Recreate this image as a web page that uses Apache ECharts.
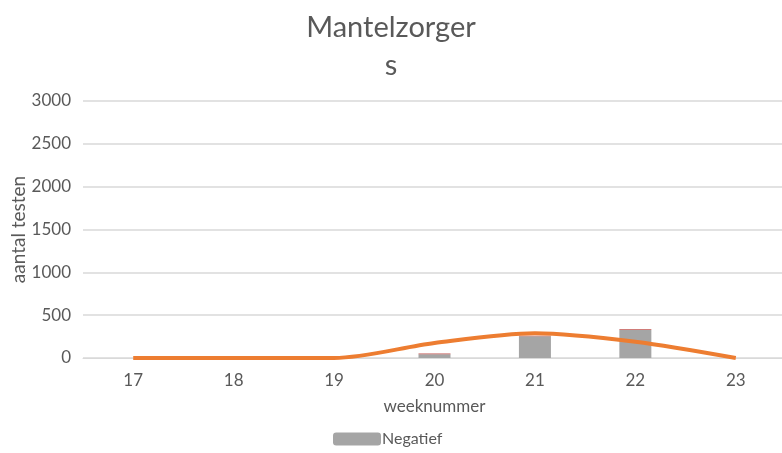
<!DOCTYPE html>
<html>
<head>
<meta charset="utf-8">
<script src="https://cdn.jsdelivr.net/npm/echarts@6/dist/echarts.min.js"></script>
<style>
  html, body { margin: 0; padding: 0; background: #fff; }
  #chart { width: 782px; height: 453px; }
</style>
</head>
<body>
<div id="chart"></div>
<script>
// ====== 数据 ======
const weeks = ["17", "18", "19", "20", "21", "22", "23"];
const negatief = [0, 0, 0, 45, 255, 327, 0];
const positief = [0, 0, 0, 8, 5, 10, 0];
const trend = [0, 0, 0, 175, 290, 190, 0];
const yTicks = [0, 500, 1000, 1500, 2000, 2500, 3000];

const textColor = "#595959";
const font = "Lato";

const chart = echarts.init(document.getElementById("chart"));

chart.setOption({
  backgroundColor: "#fff",
  animation: false,
  textStyle: { fontFamily: font },
  title: {
    text: "Mantelzorger\ns",
    left: "center",
    top: 4,
    textStyle: { fontSize: 29, fontWeight: "normal", color: textColor, lineHeight: 38, fontFamily: font }
  },
  legend: {
    bottom: 1,
    left: 328,
    itemWidth: 48,
    itemHeight: 13,
    itemGap: 4,
    data: ["Negatief"],
    textStyle: { fontSize: 16, color: textColor, padding: [0, 0, 0, -4] }
  },
  grid: { left: 83, right: -4, top: 101, bottom: 95, outerBoundsMode: "none", containLabel: false },
  xAxis: {
    type: "category",
    data: weeks,
    boundaryGap: true,
    name: "weeknummer",
    nameLocation: "middle",
    nameGap: 40,
    nameTextStyle: { fontSize: 17, color: textColor },
    axisLine: { lineStyle: { color: "#d9d9d9" } },
    axisTick: { show: false },
    axisLabel: { fontSize: 17, color: textColor, margin: 14 }
  },
  yAxis: {
    type: "value",
    min: yTicks[0],
    max: yTicks[yTicks.length - 1],
    interval: 500,
    name: "aantal testen",
    nameLocation: "middle",
    nameGap: 55,
    nameMoveOverlap: false,
    nameTextStyle: { fontSize: 19, color: textColor },
    axisLine: { show: false },
    axisTick: { show: false },
    axisLabel: { fontSize: 17, color: textColor, margin: 12, formatter: v => String(v) },
    splitLine: { lineStyle: { color: "#d9d9d9", width: 1.5 } }
  },
  series: [
    {
      name: "Negatief",
      type: "bar",
      stack: "tests",
      barWidth: 32,
      data: negatief,
      itemStyle: { color: "#a5a5a5" }
    },
    {
      name: "Positief",
      type: "bar",
      stack: "tests",
      barWidth: 32,
      data: positief,
      itemStyle: { color: "#c0504d" }
    },
    {
      name: "Trend",
      type: "line",
      data: trend,
      smooth: 0.3,
      symbol: "none",
      lineStyle: { color: "#ed7d31", width: 4 },
      z: 5
    }
  ]
});

window.addEventListener("resize", () => chart.resize());
</script>
</body>
</html>
